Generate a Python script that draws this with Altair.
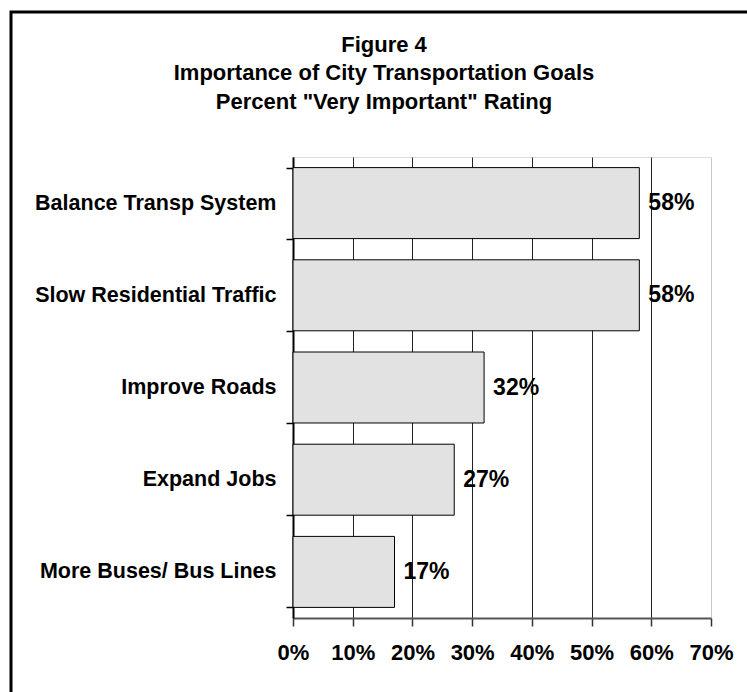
import altair as alt
import pandas as pd

goals = ["Balance Transp System", "Slow Residential Traffic", "Improve Roads",
         "Expand Jobs", "More Buses/ Bus Lines"]
very_important = [0.58, 0.58, 0.32, 0.27, 0.17]
x_ticks = [0.0, 0.1, 0.2, 0.3, 0.4, 0.5, 0.6, 0.7]
title_lines = ["Figure 4", "Importance of City Transportation Goals",
               "Percent \"Very Important\" Rating"]

df = pd.DataFrame({"goal": goals, "pct": very_important})

FONT = "Liberation Sans"
W, H = 418, 461
LEFT, TOP = 293, 157

x_enc = alt.X(
    "pct:Q",
    scale=alt.Scale(domain=[0, 0.7], nice=False, zero=True),
    axis=alt.Axis(
        values=x_ticks, format=".0%", title=None,
        grid=True,
        gridColor={"condition": {"test": "datum.value >= 0.7", "value": "#c8c8c8"}, "value": "#222222"},
        gridWidth=1,
        domainColor="#555555", domainWidth=2,
        tickColor="#333333", tickSize=8, tickWidth=1.5,
        labelFont=FONT, labelFontSize=22, labelFontWeight="bold", labelColor="black",
        labelPadding=16, labelOverlap=False, labelFlush=False,
    ),
)
y_enc = alt.Y(
    "goal:N", sort=goals,
    scale=alt.Scale(paddingInner=0.23, paddingOuter=0.115),
    axis=alt.Axis(
        title=None, tickBand="extent",
        domainColor="black", domainWidth=2,
        tickColor="black", tickSize=7, tickWidth=1.5,
        labelFont=FONT, labelFontSize=21.5, labelFontWeight="bold", labelColor="black",
        labelPadding=10, labelLimit=400,
    ),
)

bars = alt.Chart(df).mark_bar(fill="#e2e2e2", stroke="black", strokeWidth=1).encode(
    x=x_enc, y=y_enc
)
labels = alt.Chart(df).mark_text(
    align="left", baseline="middle", dx=9, font=FONT, fontSize=23,
    fontWeight="bold", color="black"
).encode(
    x="pct:Q", y=alt.Y("goal:N", sort=goals), text=alt.Text("pct:Q", format=".0%")
)
frame = alt.Chart(alt.Data(values=[{"a": 1}])).mark_rect(
    filled=False, stroke="black", strokeWidth=3
).encode(
    x=alt.value(11 - LEFT), x2=alt.value(747 - LEFT + 20),
    y=alt.value(12 - TOP), y2=alt.value(692 - TOP + 20),
)

chart = alt.layer(bars, labels, frame).properties(
    width=W, height=H,
    autosize=alt.AutoSizeParams(type="none"),
    padding={"left": LEFT, "top": TOP, "right": 747 - LEFT - W, "bottom": 692 - TOP - H},
    title=alt.TitleParams(
        text=title_lines, font=FONT, fontSize=22, fontWeight="bold", color="black",
        lineHeight=28.5, anchor="middle", frame="group", dx=384 - (LEFT + W / 2),
        offset=0, dy=103,
    ),
).configure_view(stroke="#c8c8c8", strokeWidth=2).configure(background="white")

chart.save("out.html", embed_options={"renderer": "svg", "actions": False})
